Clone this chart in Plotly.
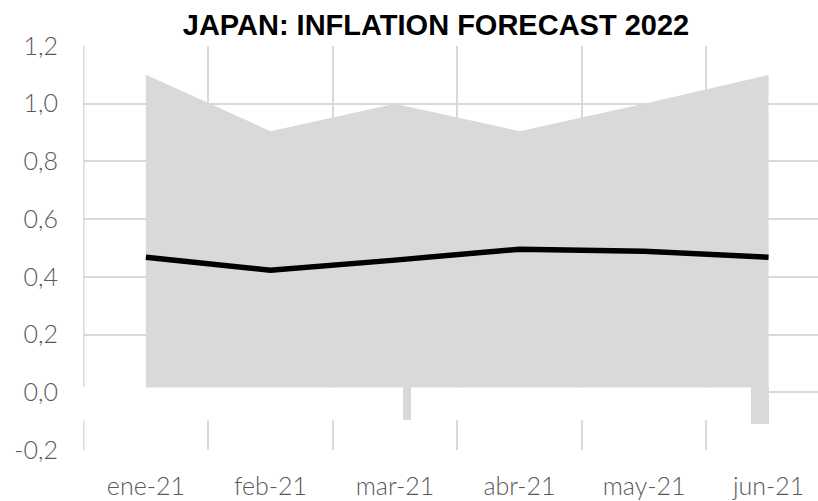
import plotly.graph_objects as go

categories = ["ene-21", "feb-21", "mar-21", "abr-21", "may-21", "jun-21"]
forecast_max = [1.10, 0.905, 1.00, 0.905, 1.00, 1.10]
forecast_min = [0.017, 0.017, -0.095, 0.017, 0.017, -0.11]
forecast_mean = [0.468, 0.423, 0.458, 0.496, 0.489, 0.468]
y_ticks = [-0.2, 0.0, 0.2, 0.4, 0.6, 0.8, 1.0, 1.2]
y_tick_text = ["-0,2", "0,0", "0,2", "0,4", "0,6", "0,8", "1,0", "1,2"]

GREY = "#d9d9d9"
GRID = "#d9d9d9"
band_floor = 0.017
band_bottom = -0.097

idx = list(range(len(categories)))

fig = go.Figure()

# grey range area
fig.add_trace(go.Scatter(
    x=idx + idx[::-1],
    y=forecast_max + [band_floor] * len(idx),
    fill="toself", fillcolor=GREY, line=dict(width=0),
    mode="lines", hoverinfo="skip", showlegend=False,
))

# small negative slivers below the band
neg_x = [i for i, v in zip(idx, forecast_min) if v < band_floor]
neg_y = [v - band_floor for v in forecast_min if v < band_floor]
neg_offset = [0.064 if i < len(idx) - 1 else -0.145 for i in neg_x]
neg_width = [0.064 if i < len(idx) - 1 else 0.145 for i in neg_x]
fig.add_trace(go.Bar(
    x=neg_x, y=neg_y, base=[band_floor] * len(neg_x),
    offset=neg_offset, width=neg_width,
    marker=dict(color=GREY, line=dict(width=0)),
    hoverinfo="skip", showlegend=False,
))

# mean forecast line
fig.add_trace(go.Scatter(
    x=idx, y=forecast_mean, mode="lines",
    line=dict(color="black", width=5.5),
    hoverinfo="skip", showlegend=False,
))

# white band hiding gridlines near zero
fig.add_shape(
    type="rect", xref="x", yref="y",
    x0=-0.6, x1=idx[-1], y0=band_bottom, y1=band_floor,
    fillcolor="white", line=dict(width=0), layer="between",
)
# left border gridline (interrupted by the band)
for y0, y1 in [(band_floor, 1.2), (-0.2, band_bottom)]:
    fig.add_shape(
        type="line", xref="paper", yref="y",
        x0=0.001, x1=0.001, y0=y0, y1=y1,
        line=dict(color=GRID, width=1.5), layer="between",
    )

tick_font = dict(family="Lato", size=25, color="#595959", weight=300)

fig.update_layout(
    width=818, height=501,
    margin=dict(l=83, r=0, t=46, b=51),
    paper_bgcolor="white", plot_bgcolor="white",
    title=dict(
        text="<b>JAPAN: INFLATION FORECAST 2022</b>",
        font=dict(family="Liberation Sans", size=29, color="black"),
        x=0.533, xref="container", xanchor="center",
        y=0.951, yref="container", yanchor="middle",
    ),
    bargap=0,
    showlegend=False,
)

fig.update_xaxes(
    range=[-0.505, 5.397],
    tickmode="array", tickvals=idx, ticktext=categories,
    showgrid=False, zeroline=False, showline=False, ticks="",
    tickfont=tick_font, ticklabelstandoff=19, automargin=False,
    minor=dict(tickmode="array", tickvals=[i - 0.5 for i in idx],
               showgrid=True, gridcolor=GRID, gridwidth=1.5, ticks=""),
)
fig.update_yaxes(
    range=[-0.2, 1.2],
    tickmode="array", tickvals=y_ticks, ticktext=y_tick_text,
    showgrid=True, gridcolor=GRID, gridwidth=1.5,
    zeroline=False, showline=False, ticks="",
    tickfont=tick_font, ticklabelstandoff=24, automargin=False,
)

fig.write_html("out.html", config={"displayModeBar": False},
               post_script="document.body.style.margin='0';")
